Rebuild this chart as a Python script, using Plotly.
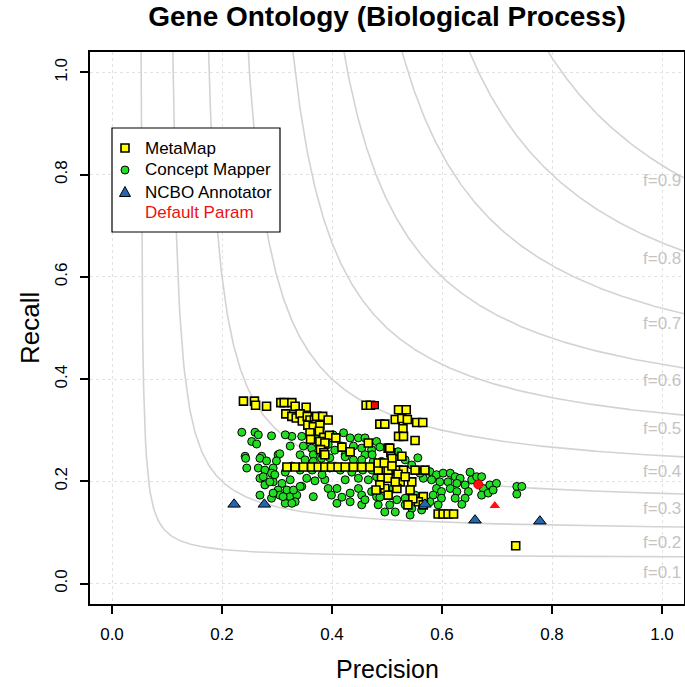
import plotly.graph_objects as go
import numpy as np

# ---------------- data ----------------
metamap_p = [0.239, 0.259, 0.261, 0.281, 0.307, 0.313, 0.327, 0.333, 0.353, 0.316, 0.327, 0.335, 0.342, 0.346,
             0.355, 0.360, 0.368, 0.372, 0.383, 0.393, 0.356, 0.366, 0.378, 0.360, 0.377, 0.385, 0.395, 0.407,
             0.361, 0.378, 0.387, 0.379, 0.385, 0.466, 0.502, 0.507, 0.462, 0.470, 0.487, 0.496, 0.521, 0.535,
             0.515, 0.527, 0.537, 0.554, 0.565, 0.529, 0.521, 0.530, 0.551, 0.505, 0.527,
             0.318, 0.333, 0.348, 0.363, 0.375, 0.387, 0.399, 0.411, 0.424, 0.439, 0.454, 0.469, 0.520, 0.551, 0.569,
             0.484, 0.502, 0.490, 0.502, 0.496, 0.502, 0.387, 0.509, 0.530, 0.524, 0.545, 0.518, 0.542, 0.566,
             0.557, 0.566, 0.593, 0.602, 0.611, 0.621, 0.484, 0.495, 0.509, 0.520, 0.533, 0.515, 0.487, 0.480,
             0.547, 0.538, 0.418, 0.433, 0.734]
metamap_r = [0.357, 0.357, 0.349, 0.347, 0.354, 0.354, 0.354, 0.347, 0.345, 0.332, 0.327, 0.324, 0.332, 0.318,
             0.327, 0.320, 0.320, 0.327, 0.327, 0.320, 0.310, 0.307, 0.310, 0.295, 0.298, 0.286, 0.290, 0.285,
             0.282, 0.278, 0.275, 0.262, 0.256, 0.275, 0.265, 0.256, 0.349, 0.349, 0.312, 0.312, 0.340, 0.340,
             0.321, 0.323, 0.321, 0.315, 0.315, 0.303, 0.288, 0.288, 0.280, 0.265, 0.249,
             0.228, 0.228, 0.228, 0.228, 0.228, 0.228, 0.228, 0.228, 0.228, 0.228, 0.228, 0.228, 0.222, 0.222, 0.222,
             0.222, 0.222, 0.206, 0.206, 0.186, 0.173, 0.252, 0.245, 0.222, 0.199, 0.199, 0.186, 0.183, 0.170,
             0.160, 0.154, 0.136, 0.136, 0.136, 0.136, 0.236, 0.236, 0.230, 0.214, 0.209, 0.199, 0.193, 0.183,
             0.166, 0.154, 0.267, 0.258, 0.074]

concept_p = [0.236, 0.260, 0.266, 0.254, 0.263, 0.290, 0.327, 0.324, 0.345, 0.348, 0.363, 0.366, 0.402, 0.421,
             0.433, 0.448, 0.460, 0.481, 0.418, 0.439, 0.454, 0.472, 0.369, 0.393, 0.302, 0.242, 0.272, 0.424,
             0.460, 0.342, 0.243, 0.269, 0.281, 0.299, 0.245, 0.266, 0.278, 0.293, 0.351, 0.366, 0.381, 0.424,
             0.439, 0.454, 0.475, 0.490, 0.509, 0.290, 0.269, 0.293, 0.309, 0.278, 0.345, 0.354, 0.369, 0.387,
             0.424, 0.448, 0.466, 0.481, 0.302, 0.318, 0.290, 0.305, 0.324, 0.336, 0.269, 0.315, 0.333, 0.366,
             0.393, 0.409, 0.399, 0.448, 0.454, 0.472, 0.409, 0.433, 0.454, 0.484, 0.505, 0.481, 0.509, 0.511,
             0.566, 0.578, 0.590, 0.602, 0.615, 0.624, 0.633, 0.566, 0.581, 0.596, 0.611, 0.627, 0.642, 0.654,
             0.663, 0.672, 0.648, 0.642, 0.636, 0.590, 0.599, 0.584, 0.599, 0.593, 0.578, 0.551, 0.545, 0.563,
             0.518, 0.533, 0.675, 0.687, 0.699, 0.672, 0.684, 0.693, 0.736, 0.745, 0.736, 0.560, 0.615, 0.627,
             0.624, 0.305, 0.296, 0.275, 0.287, 0.293, 0.330, 0.311, 0.327, 0.342, 0.405, 0.396, 0.473, 0.487,
             0.520, 0.533, 0.545, 0.556, 0.495, 0.473, 0.456, 0.436, 0.415, 0.396, 0.382, 0.364, 0.342, 0.327,
             0.315, 0.324, 0.433, 0.418, 0.460, 0.487, 0.533, 0.515, 0.542, 0.496, 0.651, 0.315]
concept_r = [0.296, 0.296, 0.291, 0.278, 0.273, 0.289, 0.288, 0.269, 0.288, 0.269, 0.265, 0.252, 0.291, 0.295,
             0.285, 0.285, 0.285, 0.278, 0.269, 0.269, 0.265, 0.262, 0.291, 0.272, 0.252, 0.249, 0.249, 0.252,
             0.252, 0.252, 0.245, 0.245, 0.240, 0.240, 0.226, 0.226, 0.222, 0.226, 0.242, 0.239, 0.245, 0.248,
             0.242, 0.242, 0.239, 0.239, 0.242, 0.216, 0.206, 0.199, 0.196, 0.193, 0.190, 0.206, 0.201, 0.203,
             0.203, 0.206, 0.203, 0.209, 0.183, 0.183, 0.167, 0.173, 0.170, 0.173, 0.173, 0.157, 0.160, 0.170,
             0.186, 0.186, 0.173, 0.186, 0.173, 0.180, 0.157, 0.160, 0.154, 0.154, 0.154, 0.170, 0.222, 0.186,
             0.222, 0.219, 0.213, 0.216, 0.216, 0.209, 0.206, 0.206, 0.203, 0.199, 0.199, 0.196, 0.193, 0.203,
             0.209, 0.209, 0.180, 0.167, 0.155, 0.186, 0.180, 0.173, 0.167, 0.154, 0.160, 0.173, 0.147, 0.144,
             0.164, 0.167, 0.186, 0.193, 0.196, 0.173, 0.177, 0.183, 0.190, 0.190, 0.175, 0.216, 0.186, 0.180,
             0.167, 0.254, 0.213, 0.209, 0.199, 0.177, 0.183, 0.170, 0.157, 0.190, 0.261, 0.246, 0.252, 0.267,
             0.258, 0.242, 0.232, 0.246, 0.207, 0.222, 0.222, 0.218, 0.222, 0.226, 0.213, 0.222, 0.222, 0.230,
             0.218, 0.203, 0.177, 0.169, 0.164, 0.169, 0.154, 0.140, 0.134, 0.140, 0.218, 0.291]

ncbo_p = [0.222, 0.277, 0.569, 0.660, 0.778]
ncbo_r = [0.155, 0.155, 0.155, 0.124, 0.122]

default_metamap = (0.478, 0.349)
default_concept = (0.666, 0.194)
default_ncbo = (0.696, 0.152)

f_levels = [0.1, 0.2, 0.3, 0.4, 0.5, 0.6, 0.7, 0.8, 0.9]
f_labels = ["f=0.1", "f=0.2", "f=0.3", "f=0.4", "f=0.5", "f=0.6", "f=0.7", "f=0.8", "f=0.9"]

x_ticks = [0.0, 0.2, 0.4, 0.6, 0.8, 1.0]
y_ticks = [0.0, 0.2, 0.4, 0.6, 0.8, 1.0]
tick_text = ["0.0", "0.2", "0.4", "0.6", "0.8", "1.0"]

legend_names = ["MetaMap", "Concept Mapper", "NCBO Annotator", "Default Param"]
legend_text_colors = ["black", "black", "black", "#ee1111"]

FONT = "Liberation Sans, Arial, sans-serif"
W, H = 685, 687
ML, MR, MT, MB = 90, 1, 52, 83
PW, PH = W - ML - MR, H - MT - MB

def px_x(px):  # pixel -> paper x
    return (px - ML) / PW

def px_y(py):  # pixel -> paper y
    return (H - MB - py) / PH

fig = go.Figure()

# iso-F curves
for f in f_levels:
    p = np.linspace(f / 2 + 0.0005, 1.1, 600)
    r = f * p / (2 * p - f)
    mask = r <= 1.2
    fig.add_trace(go.Scatter(x=p[mask], y=r[mask], mode="lines",
                             line=dict(color="#d3d3d3", width=1.6),
                             showlegend=False, hoverinfo="skip"))

fig.add_trace(go.Scatter(x=concept_p, y=concept_r, mode="markers", name="Concept Mapper",
                         marker=dict(symbol="circle", size=8, color="#22dd22",
                                     line=dict(color="black", width=1)), showlegend=False))
fig.add_trace(go.Scatter(x=metamap_p, y=metamap_r, mode="markers", name="MetaMap",
                         marker=dict(symbol="square", size=8, color="#ffff00",
                                     line=dict(color="black", width=1.6)), showlegend=False))
fig.add_trace(go.Scatter(x=ncbo_p, y=ncbo_r, mode="markers", name="NCBO Annotator",
                         marker=dict(symbol="triangle-up", size=11, color="#2467b0",
                                     line=dict(color="black", width=1)), showlegend=False))
fig.add_trace(go.Scatter(x=[default_metamap[0]], y=[default_metamap[1]], mode="markers",
                         marker=dict(symbol="square", size=7, color="#ff0000",
                                     line=dict(color="black", width=1.2)), showlegend=False))
fig.add_trace(go.Scatter(x=[default_concept[0]], y=[default_concept[1]], mode="markers",
                         marker=dict(symbol="circle", size=9, color="#ff1010",
                                     line=dict(color="#cc0000", width=1)), showlegend=False))
fig.add_trace(go.Scatter(x=[default_ncbo[0]], y=[default_ncbo[1]], mode="markers",
                         marker=dict(symbol="triangle-up", size=11, color="#ff1010",
                                     line=dict(color="#ffffff", width=1)), showlegend=False))

# f labels
for f, lab in zip(f_levels, f_labels):
    fig.add_annotation(x=1.0, y=f / (2 - f), text=lab, showarrow=False,
                       xanchor="center", yanchor="top", yshift=-4,
                       font=dict(family=FONT, size=17, color="#c4c4c4"))

# ---- legend (box, symbols, text) ----
box = dict(x0=112, x1=280, y0=128, y1=232)
row_y = [148, 170, 192, 213]
sym_x, text_x = 125, 143
shapes = [dict(type="rect", xref="paper", yref="paper",
               x0=px_x(box["x0"]), x1=px_x(box["x1"]), y0=px_y(box["y1"]), y1=px_y(box["y0"]),
               line=dict(color="black", width=1.2), fillcolor="white", layer="above")]
s = 4
shapes.append(dict(type="rect", xref="paper", yref="paper",
                   x0=px_x(sym_x - s), x1=px_x(sym_x + s), y0=px_y(row_y[0] + s), y1=px_y(row_y[0] - s),
                   line=dict(color="black", width=1.6), fillcolor="#ffff00", layer="above"))
c = 4
shapes.append(dict(type="circle", xref="paper", yref="paper",
                   x0=px_x(sym_x - c), x1=px_x(sym_x + c), y0=px_y(row_y[1] + c), y1=px_y(row_y[1] - c),
                   line=dict(color="black", width=1), fillcolor="#22dd22", layer="above"))
t = 5.5
ty = row_y[2]
path = "M {:.5f},{:.5f} L {:.5f},{:.5f} L {:.5f},{:.5f} Z".format(
    px_x(sym_x - t), px_y(ty + 4.5), px_x(sym_x + t), px_y(ty + 4.5), px_x(sym_x), px_y(ty - 5.5))
shapes.append(dict(type="path", xref="paper", yref="paper", path=path,
                   line=dict(color="black", width=1), fillcolor="#2467b0", layer="above"))
for name, col, yy in zip(legend_names, legend_text_colors, row_y):
    fig.add_annotation(text=name, xref="paper", yref="paper", x=px_x(text_x), y=px_y(yy),
                       showarrow=False, xanchor="left", yanchor="middle",
                       font=dict(family=FONT, size=17, color=col))

axis_common = dict(showline=True, linecolor="black", linewidth=1.5, mirror=True,
                   ticks="outside", ticklen=8, tickwidth=1.5, tickcolor="black",
                   showgrid=True, gridcolor="#e2e2e2", griddash="dot", gridwidth=1,
                   zeroline=False, range=[-0.04, 1.04],
                   tickfont=dict(family=FONT, size=17, color="black"))
fig.update_xaxes(tickvals=x_ticks, ticktext=tick_text, ticklabelstandoff=6, **axis_common)
fig.update_yaxes(tickvals=y_ticks, ticktext=tick_text, tickangle=-90, ticklabelstandoff=6, **axis_common)

fig.add_annotation(text="Precision", xref="paper", yref="paper", x=0.5, y=px_y(669),
                   showarrow=False, xanchor="center", yanchor="middle",
                   font=dict(family=FONT, size=25, color="black"))
fig.add_annotation(text="Recall", xref="paper", yref="paper", x=px_x(30), y=0.5,
                   showarrow=False, xanchor="center", yanchor="middle", textangle=-90,
                   font=dict(family=FONT, size=26, color="black"))

fig.update_layout(
    width=W, height=H,
    margin=dict(l=ML, r=MR, t=MT, b=MB, autoexpand=False),
    plot_bgcolor="white", paper_bgcolor="white",
    title=dict(text="<b>Gene Ontology (Biological Process)</b>", x=0.5, xref="paper",
               y=1 - 16 / H, yanchor="middle", xanchor="center",
               font=dict(family=FONT, size=28, color="black")),
    shapes=shapes,
    showlegend=False,
)

fig.write_html("out.html", config={"displayModeBar": False},
               post_script="document.body.style.margin='0px';")
